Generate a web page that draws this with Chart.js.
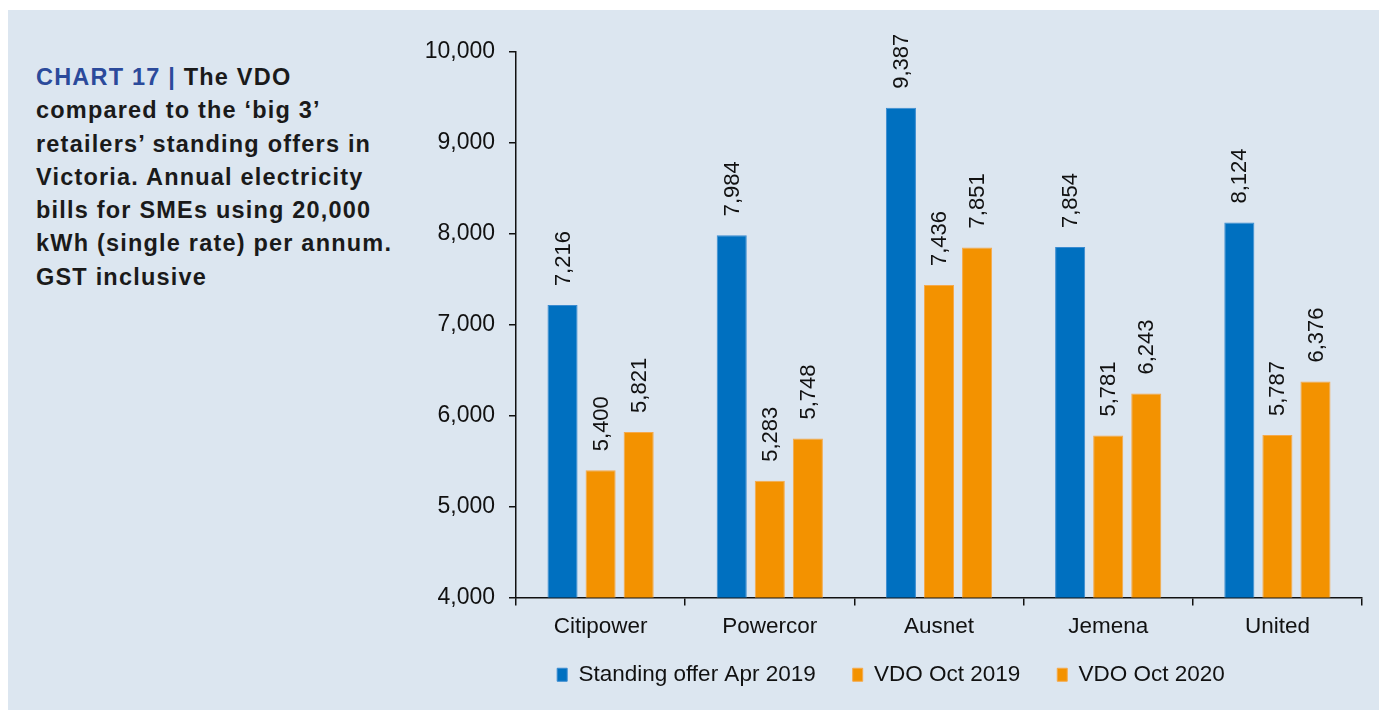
<!DOCTYPE html>
<html>
<head>
<meta charset="utf-8">
<script src="https://cdn.jsdelivr.net/npm/chart.js@4"></script>
<style>
  html, body { margin: 0; padding: 0; background: #ffffff; }
  #wrap { position: relative; width: 1379px; height: 710px; overflow: hidden; }
  #panel { position: absolute; left: 8px; top: 10px; width: 1371px; height: 700px; background: #DCE6F0; }
  #title { position: absolute; left: 36px; top: 61px; width: 380px; font-family: "Liberation Sans", Arial, sans-serif;
           font-weight: bold; font-size: 23.5px; line-height: 33.3px; letter-spacing: 1.2px; color: #1a1a1a; white-space: nowrap; }
  #title .lead { color: #2B4A9B; }
  #c { position: absolute; left: 0; top: 0; }
</style>
</head>
<body>
<div id="wrap">
  <div id="panel"></div>
  <div id="title"><span class="lead">CHART 17 | </span>The VDO<br>compared to the ‘big 3’<br>retailers’ standing offers in<br>Victoria. Annual electricity<br>bills for SMEs using 20,000<br>kWh (single rate) per annum.<br>GST inclusive</div>
  <canvas id="c" width="1379" height="710"></canvas>
</div>
<script>
const categories = ["Citipower", "Powercor", "Ausnet", "Jemena", "United"];
const standingApr2019 = [7216, 7984, 9387, 7854, 8124];
const vdoOct2019 = [5400, 5283, 7436, 5781, 5787];
const vdoOct2020 = [5821, 5748, 7851, 6243, 6376];
const seriesNames = ["Standing offer Apr 2019", "VDO Oct 2019", "VDO Oct 2020"];
const yTicks = [4000, 5000, 6000, 7000, 8000, 9000, 10000];

const BLUE = "#0070C0";
const ORANGE = "#F39200";
const FONT = "'Liberation Sans', Arial, Helvetica, sans-serif";

const valueLabels = {
  id: "valueLabels",
  afterDatasetsDraw(chart) {
    const ctx = chart.ctx;
    ctx.save();
    ctx.fillStyle = "#111111";
    ctx.font = "22px " + FONT;
    ctx.textAlign = "left";
    ctx.textBaseline = "middle";
    chart.data.datasets.forEach((ds, di) => {
      const meta = chart.getDatasetMeta(di);
      meta.data.forEach((bar, i) => {
        const v = ds.data[i];
        ctx.save();
        ctx.translate(bar.x + 1, bar.y - 19);
        ctx.rotate(-Math.PI / 2);
        ctx.fillText(v.toLocaleString("en-US"), 0, 0);
        ctx.restore();
      });
    });
    ctx.restore();
  }
};

new Chart(document.getElementById("c"), {
  type: "bar",
  data: {
    labels: categories,
    datasets: [
      { label: seriesNames[0], data: standingApr2019, backgroundColor: BLUE, borderColor: "#3A8BD0", borderWidth: 1 },
      { label: seriesNames[1], data: vdoOct2019, backgroundColor: ORANGE, borderColor: "#F6A94A", borderWidth: 1 },
      { label: seriesNames[2], data: vdoOct2020, backgroundColor: ORANGE, borderColor: "#F6A94A", borderWidth: 1 }
    ]
  },
  options: {
    responsive: false,
    animation: false,
    datasets: { bar: { categoryPercentage: 0.675, barPercentage: 0.79 } },
    layout: { padding: { left: 420, right: 17, top: 52, bottom: 14 } },
    plugins: {
      legend: {
        position: "bottom",
        labels: {
          font: { family: FONT, size: 22.5 },
          color: "#111111",
          boxWidth: 10,
          boxHeight: 13,
          padding: 37
        }
      },
      tooltip: { enabled: false }
    },
    scales: {
      x: {
        afterFit(scale) {
          scale.height = 29;
          scale._computeLabelArea = () => undefined;
        },
        grid: { offset: true, drawOnChartArea: false, drawTicks: true, tickLength: 8, color: "#111111", lineWidth: 1.5 },
        border: { color: "#111111", width: 1.5 },
        ticks: { font: { family: FONT, size: 22.5 }, color: "#111111", padding: 8 }
      },
      y: {
        min: 4000,
        max: 10000,
        afterFit(scale) { scale.width = 96; },
        afterBuildTicks(scale) { scale.ticks = yTicks.map(v => ({ value: v })); },
        grid: { drawOnChartArea: false, drawTicks: true, tickLength: 7, color: "#111111", lineWidth: 1.5 },
        border: { color: "#111111", width: 1.5 },
        ticks: {
          font: { family: FONT, size: 23 },
          color: "#111111",
          padding: 14,
          callback: v => v.toLocaleString("en-US")
        }
      }
    }
  },
  plugins: [valueLabels]
});
</script>
</body>
</html>
